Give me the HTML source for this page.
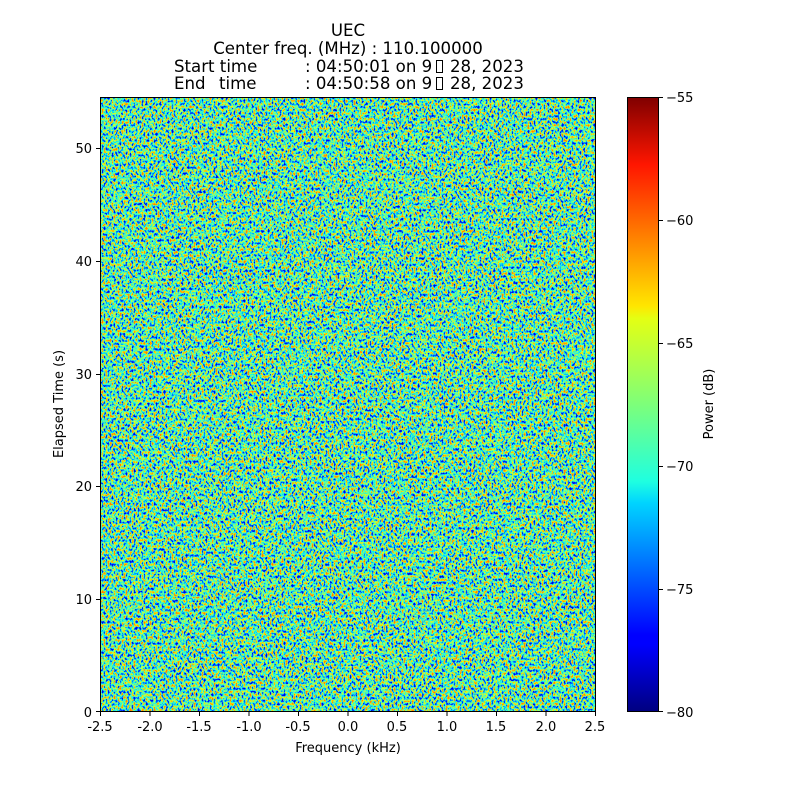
<!DOCTYPE html>
<html><head><meta charset="utf-8">
<style>
html,body{margin:0;padding:0;background:#fff;}
svg{display:block;font-family:"DejaVu Sans","Liberation Sans",sans-serif;}
</style></head>
<body>
<svg width="800" height="800" viewBox="0 0 800 800" xmlns="http://www.w3.org/2000/svg">
<defs>
<filter id="noise" x="0" y="0" width="100%" height="100%" color-interpolation-filters="sRGB">
<feTurbulence type="fractalNoise" baseFrequency="0.5 0.33" numOctaves="2" seed="7" result="t"/>
<feColorMatrix type="matrix" values="2.3 0 0 0 -0.62  2.3 0 0 0 -0.62  2.3 0 0 0 -0.62  0 0 0 0 1"/>
<feComponentTransfer>
<feFuncR type="table" tableValues="0 0 0 0 0 0.2 0.46 0.72 0.98 1 1"/>
<feFuncG type="table" tableValues="0 0.16 0.42 0.68 0.94 1 1 1 1 0.76 0.5"/>
<feFuncB type="table" tableValues="0.9 1 1 1 1 0.8 0.54 0.28 0.02 0 0"/>
<feFuncA type="table" tableValues="1 1"/>
</feComponentTransfer>
</filter>
<linearGradient id="jet" x1="0" y1="1" x2="0" y2="0">
<stop offset="0" stop-color="#00007f"/>
<stop offset="0.11" stop-color="#0000ff"/>
<stop offset="0.125" stop-color="#0000ff"/>
<stop offset="0.34" stop-color="#00d4ff"/>
<stop offset="0.375" stop-color="#1fffe0"/>
<stop offset="0.5" stop-color="#7dff7a"/>
<stop offset="0.64" stop-color="#e4ff13"/>
<stop offset="0.66" stop-color="#ffe600"/>
<stop offset="0.89" stop-color="#ff1600"/>
<stop offset="1" stop-color="#7f0000"/>
</linearGradient>
</defs>
<rect x="100" y="97" width="496" height="615" fill="#7fe8a0" filter="url(#noise)"/>
<rect x="100.5" y="97.5" width="495" height="614" fill="none" stroke="#000" stroke-width="1"/>

<g font-size="16.6" text-anchor="middle" fill="#000">
<text x="348" y="36">UEC</text>
<text x="348" y="54">Center freq. (MHz) : 110.100000</text>
<text x="174" y="72" text-anchor="start">Start time</text>
<text x="305" y="72" text-anchor="start">: 04:50:01 on 9</text>
<rect x="436.5" y="60.5" width="6" height="12" fill="none" stroke="#000" stroke-width="1"/>
<text x="450" y="72" text-anchor="start">28, 2023</text>
<text x="174" y="89" text-anchor="start">End</text>
<text x="219" y="89" text-anchor="start">time</text>
<text x="305" y="89" text-anchor="start">: 04:50:58 on 9</text>
<rect x="436.5" y="77.5" width="6" height="12" fill="none" stroke="#000" stroke-width="1"/>
<text x="450" y="89" text-anchor="start">28, 2023</text>
</g>

<g stroke="#000" stroke-width="1">
<line x1="100.5" y1="712" x2="100.5" y2="716"/>
<line x1="150" y1="712" x2="150" y2="716"/>
<line x1="199.5" y1="712" x2="199.5" y2="716"/>
<line x1="249" y1="712" x2="249" y2="716"/>
<line x1="298.5" y1="712" x2="298.5" y2="716"/>
<line x1="348" y1="712" x2="348" y2="716"/>
<line x1="397.5" y1="712" x2="397.5" y2="716"/>
<line x1="447" y1="712" x2="447" y2="716"/>
<line x1="496.5" y1="712" x2="496.5" y2="716"/>
<line x1="546" y1="712" x2="546" y2="716"/>
<line x1="595.5" y1="712" x2="595.5" y2="716"/>
<line x1="96" y1="711.5" x2="100" y2="711.5"/>
<line x1="96" y1="599.5" x2="100" y2="599.5"/>
<line x1="96" y1="486.5" x2="100" y2="486.5"/>
<line x1="96" y1="374.5" x2="100" y2="374.5"/>
<line x1="96" y1="261.5" x2="100" y2="261.5"/>
<line x1="96" y1="148.5" x2="100" y2="148.5"/>
</g>
<g font-size="13" text-anchor="middle" fill="#000">
<text x="100" y="731">-2.5</text>
<text x="150" y="731">-2.0</text>
<text x="199" y="731">-1.5</text>
<text x="249" y="731">-1.0</text>
<text x="298" y="731">-0.5</text>
<text x="348" y="731">0.0</text>
<text x="397" y="731">0.5</text>
<text x="447" y="731">1.0</text>
<text x="496" y="731">1.5</text>
<text x="546" y="731">2.0</text>
<text x="595" y="731">2.5</text>
<text x="348" y="752">Frequency (kHz)</text>
</g>
<g font-size="13" text-anchor="end" fill="#000">
<text x="92" y="717">0</text>
<text x="92" y="604">10</text>
<text x="92" y="491">20</text>
<text x="92" y="379">30</text>
<text x="92" y="266">40</text>
<text x="92" y="153">50</text>
</g>
<text x="63" y="404" font-size="13" text-anchor="middle" transform="rotate(-90 63 404)">Elapsed Time (s)</text>

<rect x="627" y="97" width="32" height="615" fill="url(#jet)"/>
<rect x="627.5" y="97.5" width="31" height="614" fill="none" stroke="#000" stroke-width="1"/>
<g stroke="#000" stroke-width="1">
<line x1="659" y1="97.5" x2="663" y2="97.5"/>
<line x1="659" y1="220.5" x2="663" y2="220.5"/>
<line x1="659" y1="343.5" x2="663" y2="343.5"/>
<line x1="659" y1="466.5" x2="663" y2="466.5"/>
<line x1="659" y1="589.5" x2="663" y2="589.5"/>
<line x1="659" y1="711.5" x2="663" y2="711.5"/>
</g>
<g font-size="13" fill="#000">
<text x="666" y="102">−55</text>
<text x="666" y="225">−60</text>
<text x="666" y="348">−65</text>
<text x="666" y="471">−70</text>
<text x="666" y="594">−75</text>
<text x="666" y="717">−80</text>
</g>
<text x="713" y="404" font-size="13" text-anchor="middle" transform="rotate(-90 713 404)">Power (dB)</text>
</svg>
</body></html>
